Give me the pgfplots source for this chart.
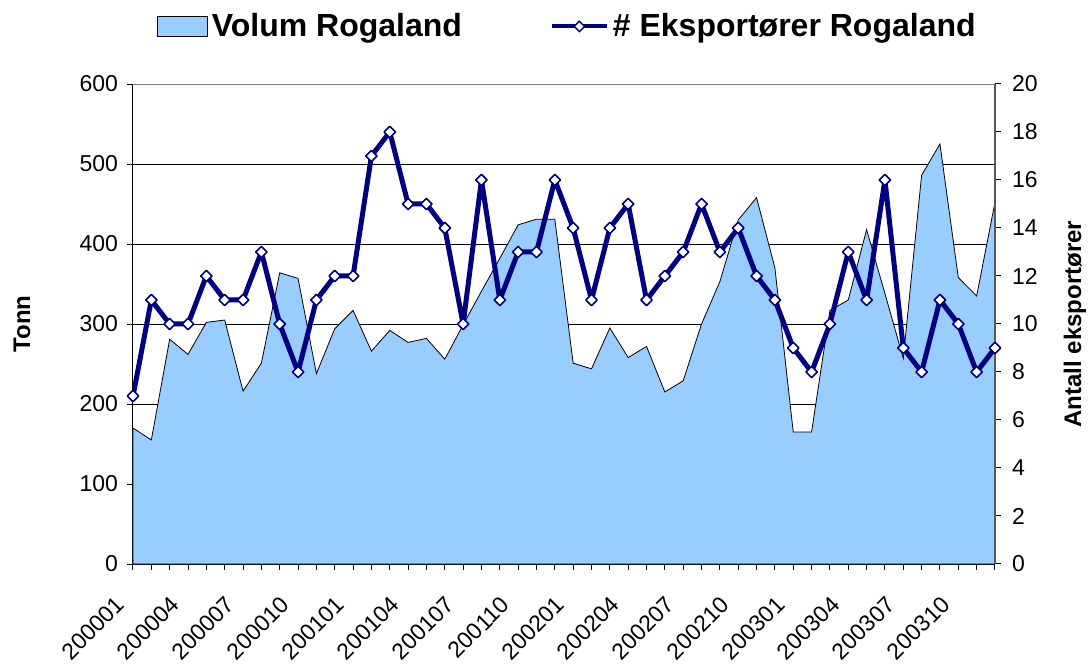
\documentclass[border=0pt]{standalone}
\usepackage{fontspec}
\setmainfont{Liberation Sans}
\usepackage{pgfplots}
\pgfplotsset{compat=1.18}
\definecolor{areablue}{HTML}{99CCFF}
\definecolor{navyline}{HTML}{000080}
\pgfplotstableread{
x vol
0 170
1 155
2 281
3 262
4 302
5 305
6 216
7 251
8 364
9 357
10 238
11 294
12 317
13 266
14 292
15 277
16 282
17 256
18 299
19 341
20 382
21 424
22 431
23 431
24 251
25 244
26 295
27 258
28 272
29 215
30 229
31 300
32 353
33 430
34 458
35 370
36 165
37 165
38 317
39 330
40 418
41 338
42 257
43 486
44 525
45 358
46 335
47 452
}\voltable
\pgfplotstableread{
x eks
0 7
1 11
2 10
3 10
4 12
5 11
6 11
7 13
8 10
9 8
10 11
11 12
12 12
13 17
14 18
15 15
16 15
17 14
18 10
19 16
20 11
21 13
22 13
23 16
24 14
25 11
26 14
27 15
28 11
29 12
30 13
31 15
32 13
33 14
34 12
35 11
36 9
37 8
38 10
39 13
40 11
41 16
42 9
43 8
44 11
45 10
46 8
47 9
}\ekstable
\begin{document}
\begin{tikzpicture}
\useasboundingbox (-66.5pt,-50.5pt) rectangle (478pt,282pt);
\pgfplotsset{
  common/.style={
    scale only axis, width=431pt, height=240pt,
    xmin=0, xmax=47,
    tick align=outside,
    major tick length=3pt, minor tick length=3pt,
    tick style={black, line width=0.5pt},
    /pgf/number format/assume math mode=true,
    ticklabel style={font=\fontsize{11.5}{13}\selectfont},
  }
}
\begin{axis}[common,
  ymin=0, ymax=600,
  ytick={0,100,...,600},
  axis x line*=bottom, axis y line*=left,
  axis line style={black, line width=0.5pt},
  xtick={0,3,...,45},
  xticklabels={200001,200004,200007,200010,200101,200104,200107,200110,200201,200204,200207,200210,200301,200304,200307,200310},
  minor xtick={0,...,47},
  xticklabel style={rotate=45, anchor=east, xshift=-12pt, yshift=-6.5pt},
  yticklabel style={xshift=-1pt},
  ymajorgrids, grid style={black, line width=0.5pt},
  ylabel={Tonn},
  every axis y label/.style={at={(axis description cs:-0.1288,0.5)}, rotate=90, anchor=center,
    font=\fontsize{12}{14}\selectfont\bfseries},
  legend style={at={(axis description cs:0.027,1.12)}, anchor=west, draw=none, fill=none,
    font=\fontsize{16}{19}\selectfont\bfseries, inner sep=0pt,
    legend columns=2,
    /tikz/every even column/.append style={column sep=42pt}},
  legend cell align=left,
]
\addplot[fill=areablue, draw=black, line width=0.4pt, forget plot] table[x=x, y=vol] {\voltable} \closedcycle;
\addlegendimage{legend image code/.code={
  \draw[fill=areablue, draw=black, line width=0.6pt] (0pt,-5pt) rectangle (25pt,5pt);
}}
\addlegendentry{Volum Rogaland}
\addlegendimage{legend image code/.code={
  \draw[navyline, line width=2pt] (0pt,0pt) -- (27.5pt,0pt);
  \draw[navyline, fill=white, line width=0.7pt] (13.75pt,-2.6pt) -- (16.35pt,0pt) -- (13.75pt,2.6pt) -- (11.15pt,0pt) -- cycle;
}}
\addlegendentry{\# Eksportører Rogaland}
\draw[gray, line width=0.6pt] (rel axis cs:0,1) -- (rel axis cs:1,1);
\end{axis}
\begin{axis}[common,
  ymin=0, ymax=20,
  ytick={0,2,...,20},
  axis x line=none, axis y line*=right,
  axis line style={gray!70!black, line width=0.6pt},
  yticklabel style={xshift=2pt},
  ylabel={Antall eksportører},
  every axis y label/.style={at={(axis description cs:1.0928,0.5)}, rotate=90, anchor=center,
    font=\fontsize{12}{14}\selectfont\bfseries},
]
\addplot[navyline, line width=2.5pt, line join=round, mark=square*, mark size=2pt,
  mark options={rotate=45, fill=white, draw=navyline, line width=0.8pt}]
  table[x=x, y=eks] {\ekstable};
\end{axis}
\end{tikzpicture}
\end{document}
